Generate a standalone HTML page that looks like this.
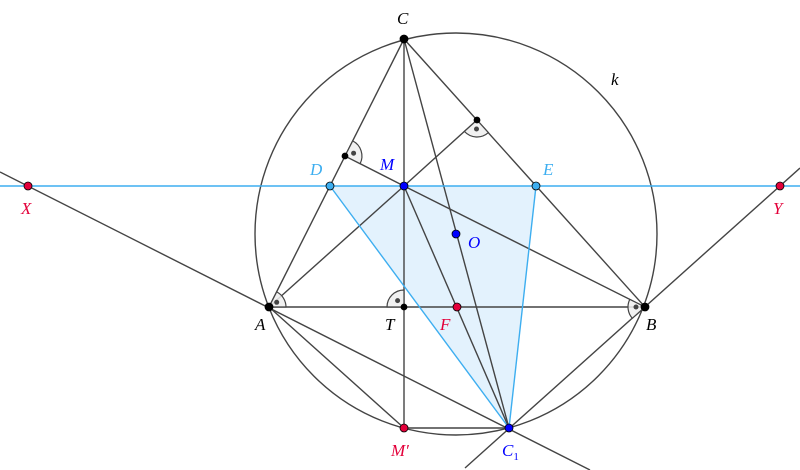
<!DOCTYPE html>
<html><head><meta charset="utf-8"><style>
html,body{margin:0;padding:0;background:#fff}
svg{display:block}
text{font-family:"Liberation Serif",serif;font-style:italic;font-size:17px}
</style></head><body>
<svg width="800" height="470" viewBox="0 0 800 470" xmlns="http://www.w3.org/2000/svg">
<polygon points="330,186 536,186 509,428" fill="#e3f2fd"/>
<circle cx="456" cy="234" r="201" fill="none" stroke="#444" stroke-width="1.4"/>
<g stroke="#444" stroke-width="1.4" fill="none">
<line x1="0" y1="172" x2="590" y2="470"/>
<line x1="800" y1="168" x2="465" y2="468"/>
<line x1="404" y1="39" x2="269" y2="307"/>
<line x1="404" y1="39" x2="645" y2="307"/>
<line x1="269" y1="307" x2="645" y2="307"/>
<line x1="404" y1="39" x2="509" y2="428"/>
<line x1="404" y1="39" x2="404" y2="428"/>
<line x1="404" y1="186" x2="269" y2="307"/>
<line x1="404" y1="186" x2="645" y2="307"/>
<line x1="404" y1="186" x2="509" y2="428"/>
<line x1="404" y1="186" x2="345" y2="156"/>
<line x1="404" y1="186" x2="477" y2="120"/>
<line x1="269" y1="307" x2="404" y2="428"/>
<line x1="404" y1="428" x2="509" y2="428"/>
</g>
<g fill="#efefef" fill-opacity="0.85" stroke="#444" stroke-width="1.2">
<path d="M345,156 L352.7,140.9 A17 17 0 0 1 360.1,163.7 Z"/>
<path d="M477,120 L488.4,132.6 A17 17 0 0 1 464.4,131.4 Z"/>
<path d="M404,307 L387,307 A17 17 0 0 1 404,290 Z"/>
<path d="M269,307 L276.7,291.9 A17 17 0 0 1 286,307 Z"/>
<path d="M645,307 L629.8,299.4 A17 17 0 0 0 632.3,318.3 Z"/>
</g>
<g fill="#444">
<circle cx="353.6" cy="153.2" r="2.5"/><circle cx="476.5" cy="129" r="2.5"/>
<circle cx="397.6" cy="300.6" r="2.5"/><circle cx="276.7" cy="302.3" r="2.5"/><circle cx="636" cy="307" r="2.5"/>
</g>
<g stroke="#3daef0" stroke-width="1.4">
<line x1="0" y1="186" x2="800" y2="186"/>
<line x1="330" y1="186" x2="509" y2="428"/>
<line x1="536" y1="186" x2="509" y2="428"/>
</g>
<g stroke="#000" stroke-width="0.8">
<circle cx="404" cy="39" r="4" fill="#000"/>
<circle cx="269" cy="307" r="4" fill="#000"/>
<circle cx="645" cy="307" r="4" fill="#000"/>
<circle cx="404" cy="307" r="3" fill="#000"/>
<circle cx="345" cy="156" r="3" fill="#000"/>
<circle cx="477" cy="120" r="3" fill="#000"/>
<circle cx="404" cy="186" r="4" fill="#0000ff"/>
<circle cx="456" cy="234" r="4" fill="#0000ff"/>
<circle cx="509" cy="428" r="4" fill="#0000ff"/>
<circle cx="330" cy="186" r="4" fill="#3daef0"/>
<circle cx="536" cy="186" r="4" fill="#3daef0"/>
<circle cx="28" cy="186" r="4" fill="#e3003a"/>
<circle cx="780" cy="186" r="4" fill="#e3003a"/>
<circle cx="457" cy="307" r="4" fill="#e3003a"/>
<circle cx="404" cy="428" r="4" fill="#e3003a"/>
</g>
<text x="397" y="24" fill="#000">C</text>
<text x="611" y="85" fill="#000">k</text>
<text x="380" y="170" fill="#0000ff">M</text>
<text x="310" y="175" fill="#3daef0">D</text>
<text x="543" y="175" fill="#3daef0">E</text>
<text x="21" y="214" fill="#e3003a">X</text>
<text x="773" y="214" fill="#e3003a">Y</text>
<text x="468" y="248" fill="#0000ff">O</text>
<text x="255" y="330" fill="#000">A</text>
<text x="385" y="330" fill="#000">T</text>
<text x="440" y="330" fill="#e3003a">F</text>
<text x="646" y="330" fill="#000">B</text>
<text x="391" y="456" fill="#e3003a">M′</text>
<text x="502" y="456" fill="#0000ff">C<tspan font-size="11" dy="4" font-style="normal">1</tspan></text>
</svg>
</body></html>
